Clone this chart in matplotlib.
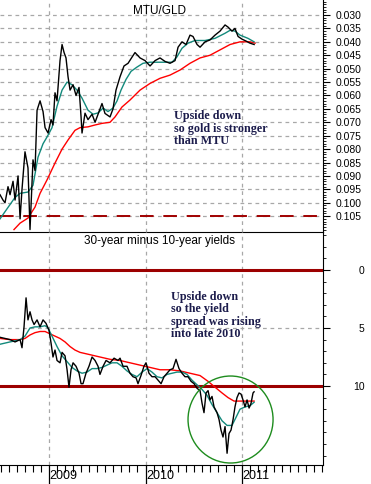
import numpy as np
import matplotlib
matplotlib.use('Agg')
import matplotlib.pyplot as plt
from matplotlib.patches import Ellipse
from matplotlib.ticker import MultipleLocator, FixedLocator
import matplotlib.transforms as mtransforms

plt.rcParams['font.family'] = ['Liberation Sans', 'DejaVu Sans']

# ---- MTU/GLD ratio (x in decimal years) ----
ratio_t = [2008.492, 2008.523, 2008.544, 2008.575, 2008.596, 2008.627, 2008.648, 2008.679, 2008.700, 2008.720,
           2008.751, 2008.782, 2008.803, 2008.834, 2008.855, 2008.876, 2008.907, 2008.938, 2008.959, 2008.990,
           2009.021, 2009.041, 2009.062, 2009.083, 2009.114, 2009.135, 2009.156, 2009.176, 2009.197, 2009.218,
           2009.249, 2009.280, 2009.311, 2009.332, 2009.342, 2009.373, 2009.404, 2009.446, 2009.477, 2009.508,
           2009.549, 2009.580, 2009.632, 2009.663, 2009.694, 2009.736, 2009.777, 2009.819, 2009.860, 2009.891,
           2009.943, 2009.995, 2010.047, 2010.099, 2010.150, 2010.202, 2010.254, 2010.306, 2010.337, 2010.378,
           2010.420, 2010.461, 2010.492, 2010.534, 2010.565, 2010.617, 2010.668, 2010.720, 2010.772, 2010.824,
           2010.855, 2010.896, 2010.927, 2010.959, 2011.000, 2011.041, 2011.083, 2011.125]
ratio = [0.097, 0.099, 0.100, 0.094, 0.097, 0.092, 0.099, 0.090, 0.106, 0.095,
         0.081, 0.087, 0.110, 0.084, 0.088, 0.0655, 0.062, 0.066, 0.072, 0.074,
         0.069, 0.071, 0.059, 0.062, 0.047, 0.041, 0.044, 0.046, 0.053, 0.058,
         0.056, 0.060, 0.057, 0.068, 0.074, 0.0666, 0.069, 0.067, 0.070, 0.067,
         0.063, 0.0667, 0.068, 0.065, 0.058, 0.053, 0.049, 0.048, 0.0457, 0.044,
         0.046, 0.047, 0.049, 0.047, 0.046, 0.0473, 0.048, 0.047, 0.042, 0.040,
         0.041, 0.0375, 0.038, 0.041, 0.042, 0.040, 0.0393, 0.0375, 0.036, 0.0337,
         0.0345, 0.036, 0.035, 0.038, 0.039, 0.0397, 0.0405, 0.041]

ratio_ma_short_t = [2008.492, 2008.648, 2008.700, 2008.782, 2008.834, 2008.886, 2008.938, 2008.979, 2009.031, 2009.083,
                    2009.135, 2009.187, 2009.238, 2009.290, 2009.342, 2009.404, 2009.456, 2009.508, 2009.560, 2009.611,
                    2009.663, 2009.705, 2009.746, 2009.798, 2009.850, 2009.912, 2009.974, 2010.047, 2010.130, 2010.202,
                    2010.275, 2010.326, 2010.378, 2010.440, 2010.513, 2010.617, 2010.720, 2010.824, 2010.876, 2010.927,
                    2010.979, 2011.062, 2011.125]
ratio_ma_short = [0.106, 0.098, 0.0965, 0.096, 0.0935, 0.083, 0.078, 0.0755, 0.072, 0.064,
                  0.058, 0.055, 0.056, 0.058, 0.061, 0.0655, 0.067, 0.0665, 0.0647, 0.066,
                  0.0647, 0.062, 0.058, 0.054, 0.051, 0.0494, 0.048, 0.0476, 0.0476, 0.0476,
                  0.0476, 0.0456, 0.0424, 0.0405, 0.0395, 0.0395, 0.0387, 0.0368, 0.0357, 0.036,
                  0.0375, 0.0387, 0.040]

ratio_ma_long_t = [2008.637, 2008.700, 2008.782, 2008.855, 2008.907, 2008.979, 2009.062, 2009.135, 2009.197, 2009.269,
                   2009.321, 2009.404, 2009.477, 2009.549, 2009.632, 2009.684, 2009.756, 2009.839, 2009.943, 2010.047,
                   2010.150, 2010.254, 2010.358, 2010.461, 2010.565, 2010.668, 2010.772, 2010.876, 2010.979, 2011.083,
                   2011.135]
ratio_ma_long = [0.110, 0.1076, 0.1057, 0.1016, 0.0965, 0.0915, 0.0852, 0.080, 0.0766, 0.073,
                 0.072, 0.0717, 0.071, 0.0704, 0.070, 0.068, 0.0643, 0.0617, 0.058, 0.0555,
                 0.0536, 0.0524, 0.0505, 0.048, 0.046, 0.045, 0.043, 0.041, 0.040, 0.040,
                 0.0405]
ratio_ref_level = 0.105

# ---- 30-year minus 10-year yields ----
spread_t = [2008.492, 2008.544, 2008.596, 2008.648, 2008.700, 2008.720, 2008.741, 2008.762, 2008.782, 2008.803,
            2008.824, 2008.845, 2008.876, 2008.907, 2008.938, 2008.969, 2009.000, 2009.021, 2009.041, 2009.062,
            2009.083, 2009.114, 2009.135, 2009.166, 2009.187, 2009.207, 2009.228, 2009.249, 2009.280, 2009.311,
            2009.332, 2009.352, 2009.383, 2009.414, 2009.446, 2009.477, 2009.508, 2009.528, 2009.560, 2009.591,
            2009.632, 2009.674, 2009.715, 2009.736, 2009.767, 2009.808, 2009.839, 2009.870, 2009.902, 2009.922,
            2009.953, 2009.984, 2010.005, 2010.036, 2010.067, 2010.099, 2010.130, 2010.161, 2010.192, 2010.223,
            2010.254, 2010.285, 2010.316, 2010.347, 2010.378, 2010.409, 2010.440, 2010.472, 2010.503, 2010.534,
            2010.565, 2010.586, 2010.606, 2010.627, 2010.648, 2010.668, 2010.689, 2010.710, 2010.741, 2010.762,
            2010.782, 2010.803, 2010.824, 2010.845, 2010.865, 2010.886, 2010.907, 2010.927, 2010.948, 2010.969,
            2010.990, 2011.010, 2011.031, 2011.052, 2011.073, 2011.093, 2011.114, 2011.125]
spread = [5.8, 5.9, 6.0, 6.2, 6.0, 6.7, 4.9, 2.4, 4.3, 3.6,
          4.3, 4.7, 4.3, 4.9, 4.3, 4.6, 5.2, 6.3, 7.5, 6.9,
          7.8, 8.0, 7.1, 7.4, 8.6, 10.1, 8.6, 8.0, 8.3, 8.9,
          9.8, 9.8, 8.9, 8.3, 7.5, 7.8, 8.3, 9.0, 8.3, 7.8,
          8.0, 7.6, 7.8, 7.6, 8.3, 8.3, 8.9, 9.2, 9.3, 9.8,
          9.1, 8.3, 8.0, 8.9, 9.2, 9.2, 9.5, 9.8, 9.2, 8.9,
          8.6, 8.5, 7.7, 8.5, 8.9, 9.2, 9.2, 9.6, 9.8, 10.2,
          10.4, 11.5, 12.3, 10.6, 10.4, 11.2, 10.9, 11.8, 12.3, 12.9,
          13.8, 14.4, 13.5, 15.8, 14.1, 13.8, 12.9, 11.8, 11.0, 10.6,
          10.7, 11.2, 11.8, 11.2, 11.9, 11.5, 10.6, 10.5]

spread_ma_short_t = [2008.492, 2008.596, 2008.700, 2008.751, 2008.803, 2008.855, 2008.907, 2008.959, 2008.990, 2009.031,
                     2009.083, 2009.135, 2009.187, 2009.238, 2009.290, 2009.342, 2009.394, 2009.446, 2009.497, 2009.549,
                     2009.601, 2009.653, 2009.705, 2009.756, 2009.808, 2009.860, 2009.912, 2009.964, 2010.016, 2010.067,
                     2010.119, 2010.171, 2010.223, 2010.275, 2010.326, 2010.378, 2010.430, 2010.482, 2010.534, 2010.586,
                     2010.637, 2010.689, 2010.741, 2010.793, 2010.845, 2010.896, 2010.938, 2010.979, 2011.031, 2011.083,
                     2011.125]
spread_ma_short = [6.4, 6.2, 6.0, 5.7, 5.0, 4.9, 4.9, 4.8, 5.0, 5.7,
                   6.6, 7.4, 7.9, 8.4, 8.7, 8.9, 8.8, 8.5, 8.5, 8.4,
                   8.2, 8.0, 8.0, 8.3, 8.7, 9.0, 9.2, 8.8, 8.5, 8.8,
                   9.2, 9.3, 9.0, 8.9, 8.8, 8.8, 9.0, 9.5, 9.9, 10.3,
                   10.8, 11.6, 12.3, 13.0, 13.4, 13.4, 12.7, 12.0, 11.8, 11.7,
                   11.4]

spread_ma_long_t = [2008.492, 2008.596, 2008.700, 2008.751, 2008.803, 2008.855, 2008.907, 2008.959, 2009.010, 2009.062,
                    2009.114, 2009.166, 2009.218, 2009.269, 2009.321, 2009.425, 2009.528, 2009.632, 2009.736, 2009.839,
                    2009.943, 2010.047, 2010.150, 2010.254, 2010.358, 2010.461, 2010.565, 2010.648, 2010.720, 2010.793,
                    2010.855, 2010.917, 2010.979, 2011.062, 2011.125]
spread_ma_long = [5.9, 6.0, 6.0, 5.9, 5.6, 5.4, 5.3, 5.3, 5.5, 5.7,
                  5.9, 6.2, 6.6, 6.9, 7.1, 7.3, 7.5, 7.7, 7.8, 8.0,
                  8.2, 8.4, 8.6, 8.6, 8.7, 8.9, 9.1, 9.6, 10.1, 10.6,
                  11.0, 11.3, 11.3, 11.3, 11.3]
spread_ref_levels = [0, 10]

years = [2009, 2010, 2011]
ratio_ticks = [0.030, 0.035, 0.040, 0.045, 0.050, 0.055, 0.060, 0.065, 0.070,
               0.075, 0.080, 0.085, 0.090, 0.095, 0.100, 0.105]
spread_ticks = [0, 5, 10]

note_top = "Upside down\nso gold is stronger\nthan MTU"
note_bottom = "Upside down\nso the yield\nspread was rising\ninto late 2010"

# ---- layout ----
fig = plt.figure(figsize=(3.71, 4.84), dpi=100)
ax1 = fig.add_axes([0.0, 0.5207, 0.8706, 0.4793])
ax2 = fig.add_axes([0.0, 0.0393, 0.8706, 0.4814])

xmin, xmax = 2008.492, 2011.839
grid_kw = dict(color='#a8a8a8', lw=0.9, ls=(0, (3, 3)), zorder=0)
teal = '#138a7c'
navy = '#1c1c4c'

for ax in (ax1, ax2):
    ax.set_xlim(xmin, xmax)
    ax.patch.set_visible(False)
    ax.spines['left'].set_visible(False)
    ax.spines['top'].set_visible(False)
    ax.yaxis.tick_right()
    for y in years:
        ax.axvline(y, **grid_kw)
ax1.spines['bottom'].set_zorder(10)

# top panel
for v in ratio_ticks:
    ax1.axhline(v, **grid_kw)
ax1.axhline(ratio_ref_level, color='#a00000', lw=1.4, ls=(0, (7, 5)), zorder=1)
ax1.plot(ratio_ma_long_t, ratio_ma_long, color='#ff0000', lw=1.0, zorder=2)
ax1.plot(ratio_ma_short_t, ratio_ma_short, color=teal, lw=1.0, zorder=3)
ax1.plot(ratio_t, ratio, color='black', lw=1.0, zorder=4)
ax1.set_ylim(0.1109, 0.0244)
ax1.yaxis.set_major_locator(FixedLocator(ratio_ticks))
ax1.yaxis.set_minor_locator(MultipleLocator(0.001))
ax1.set_yticklabels(['%.3f' % v for v in ratio_ticks])
ax1.tick_params(axis='y', which='major', length=5, width=0.8, pad=4, labelsize=7.5)
ax1.tick_params(axis='y', which='minor', length=2.5, width=0.6)
ax1.set_xticks([])
ax1.text(0.495, 0.953, 'MTU/GLD', transform=ax1.transAxes, ha='center', va='center', fontsize=8.5)
ax1.text(0.538, 0.525, note_top, transform=ax1.transAxes, ha='left', va='top',
         fontsize=8.7, fontweight='bold', family='Liberation Serif', color=navy, linespacing=1.05)

# bottom panel
ax2.axhline(5, **grid_kw)
for v in spread_ref_levels:
    ax2.axhline(v, color='#9c0000', lw=2.2, zorder=1)
ax2.plot(spread_ma_long_t, spread_ma_long, color='#ff0000', lw=1.0, zorder=2)
ax2.plot(spread_ma_short_t, spread_ma_short, color=teal, lw=1.0, zorder=3)
ax2.plot(spread_t, spread, color='black', lw=1.0, zorder=4)
ax2.add_patch(Ellipse((2010.881, 12.89), 0.881, 7.5, fill=False, ec='#1e8c1e', lw=1.0, zorder=5))
ax2.set_ylim(16.81, -3.28)
ax2.yaxis.set_major_locator(FixedLocator(spread_ticks))
ax2.yaxis.set_minor_locator(MultipleLocator(1))
ax2.tick_params(axis='y', which='major', length=5, width=0.8, pad=25, labelsize=7.5)
ax2.tick_params(axis='y', which='minor', length=2.5, width=0.6)
for lab in ax2.get_yticklabels():
    lab.set_horizontalalignment('right')

# x axis: month ticks, long year ticks with labels to their right
ax2.xaxis.set_minor_locator(MultipleLocator(1 / 12))
ax2.set_xticks(years)
ax2.set_xticklabels([])
ax2.tick_params(axis='x', which='minor', length=5, width=0.8, direction='out')
ax2.tick_params(axis='x', which='major', length=14, width=0.9, direction='out')
trans = mtransforms.blended_transform_factory(ax2.transData, ax2.transAxes)
for y in years:
    ax2.text(y + 0.006, -0.048, str(y), transform=trans, ha='left', va='center', fontsize=9)

ax2.text(0.495, 0.961, '30-year minus 10-year yields', transform=ax2.transAxes,
         ha='center', va='center', fontsize=8.5)
ax2.text(0.529, 0.748, note_bottom, transform=ax2.transAxes, ha='left', va='top',
         fontsize=8.7, fontweight='bold', family='Liberation Serif', color=navy, linespacing=1.05)

fig.savefig('out.png', dpi=100)
